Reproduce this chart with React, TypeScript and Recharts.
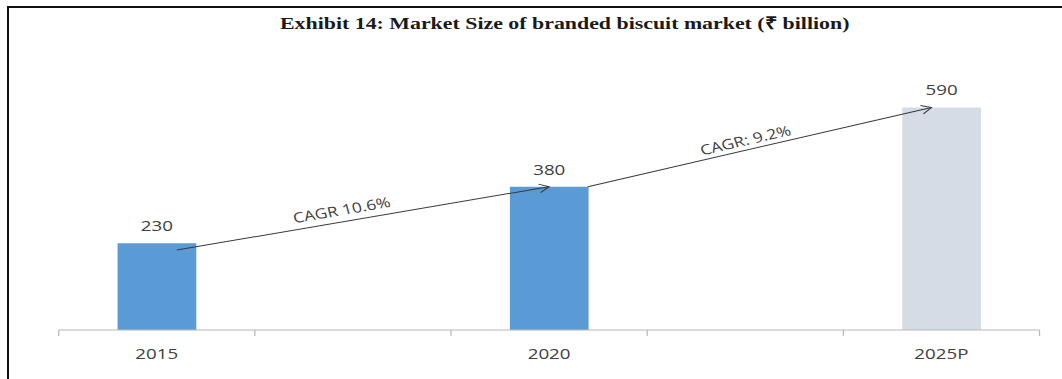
import React from "react";
import { BarChart, Bar, XAxis, YAxis, Cell, LabelList, ReferenceLine } from "recharts";

// categories (gaps are the empty bands of the original axis)
const years = ["2015", "gap1", "2020", "gap2", "2025P"];
const marketSize = [230, null, 380, null, 590];
const barColors = ["#5b9bd5", "#5b9bd5", "#5b9bd5", "#5b9bd5", "#d6dce5"];

// CAGR arrows: from [year, value] to [year, value]
const cagrText = ["CAGR 10.6%", "CAGR: 9.2%"];
const cagrFrom = [
  { x: "2015", y: 212 },
  { x: "2020", y: 380 },
];
const cagrTo = [
  { x: "2020", y: 380 },
  { x: "2025P", y: 590 },
];

const data = years.map((year, i) => ({ year, value: marketSize[i] }));

// the reference is stretched horizontally, so draw narrow and scale
const FULL_W = 1062;
const W = 850;
const H = 379;
const margin = { top: 66, right: 18, bottom: 19, left: 47 };
const band = (W - margin.left - margin.right) / years.length;
const font = "'Open Sans', 'Noto Sans', sans-serif";
const textGray = "#404040";

const YearTick = (props: any) => {
  const { x, y, payload, index } = props;
  const half = band / 2;
  const label = String(payload.value);
  return (
    <g>
      <line x1={x - half} x2={x - half} y1={y} y2={y + 6} stroke="#b8b8b8" />
      {index === years.length - 1 && (
        <line x1={x + half} x2={x + half} y1={y} y2={y + 6} stroke="#b8b8b8" />
      )}
      {!label.startsWith("gap") && (
        <text x={x} y={y + 29} textAnchor="middle" fontFamily={font} fontSize={15} fill={textGray}>
          {label}
        </text>
      )}
    </g>
  );
};

const makeArrow = (text: string, dxStart: number, dxEnd: number, along: number, perp: number) => (p: any) => {
  const x1 = p.x1 + dxStart;
  const y1 = p.y1;
  const x2 = p.x2 + dxEnd;
  const y2 = p.y2;
  const ang = Math.atan2(y2 - y1, x2 - x1);
  const head = 9;
  const spread = 0.5;
  const w1x = x2 - head * Math.cos(ang - spread);
  const w1y = y2 - head * Math.sin(ang - spread);
  const w2x = x2 - head * Math.cos(ang + spread);
  const w2y = y2 - head * Math.sin(ang + spread);
  const tx = (x1 + x2) / 2 + along * Math.cos(ang) + perp * Math.sin(ang);
  const ty = (y1 + y2) / 2 + along * Math.sin(ang) - perp * Math.cos(ang);
  const deg = (ang * 180) / Math.PI;
  return (
    <g>
      <line x1={x1} y1={y1} x2={x2} y2={y2} stroke="#3a3a3a" strokeWidth={1} />
      <path d={`M${w1x},${w1y} L${x2},${y2} L${w2x},${w2y}`} fill="none" stroke="#3a3a3a" strokeWidth={1} />
      <text
        x={tx}
        y={ty}
        textAnchor="middle"
        dominantBaseline="central"
        transform={`rotate(${deg} ${tx} ${ty})`}
        fontFamily={font}
        fontSize={14}
        fill={textGray}
      >
        {text}
      </text>
    </g>
  );
};

const arrowShapes = [makeArrow(cagrText[0], 16, 0, -15, 12), makeArrow(cagrText[1], 31, -8, -9, 10)];

export default function App() {
  return (
    <div style={{ position: "absolute", left: 0, top: 0, width: FULL_W, height: H, overflow: "hidden", background: "#fff" }}>
      <div
        style={{
          position: "absolute",
          left: 0,
          top: 0,
          width: W,
          height: H,
          transform: `scaleX(${FULL_W / W})`,
          transformOrigin: "0 0",
        }}
      >
        <div
          style={{
            position: "absolute",
            left: 152,
            top: 13,
            width: 600,
            textAlign: "center",
            fontFamily: "'Liberation Serif', 'Times New Roman', serif",
            fontWeight: "bold",
            fontSize: 17.5,
            lineHeight: "20px",
            color: "#1a1a1a",
          }}
        >
          Exhibit 14: Market Size of branded biscuit market (₹ billion)
        </div>
        <BarChart width={W} height={H} data={data} margin={margin} barCategoryGap="30%">
          <XAxis
            dataKey="year"
            interval={0}
            tickLine={false}
            tickSize={0}
            tickMargin={0}
            axisLine={{ stroke: "#b8b8b8" }}
            tick={<YearTick />}
          />
          <YAxis hide domain={[0, 700]} />
          <Bar dataKey="value" isAnimationActive={false}>
            {data.map((d, i) => (
              <Cell key={d.year} fill={barColors[i]} />
            ))}
            <LabelList dataKey="value" position="top" offset={12} fontFamily={font} fontSize={15} fill={textGray} />
          </Bar>
          {cagrText.map((t, i) => (
            <ReferenceLine key={t} segment={[cagrFrom[i], cagrTo[i]]} shape={arrowShapes[i]} />
          ))}
        </BarChart>
      </div>
      <div
        style={{
          position: "absolute",
          left: 7,
          top: 6,
          right: -10,
          bottom: -10,
          borderTop: "2px solid #111",
          borderLeft: "2px solid #111",
        }}
      />
    </div>
  );
}
